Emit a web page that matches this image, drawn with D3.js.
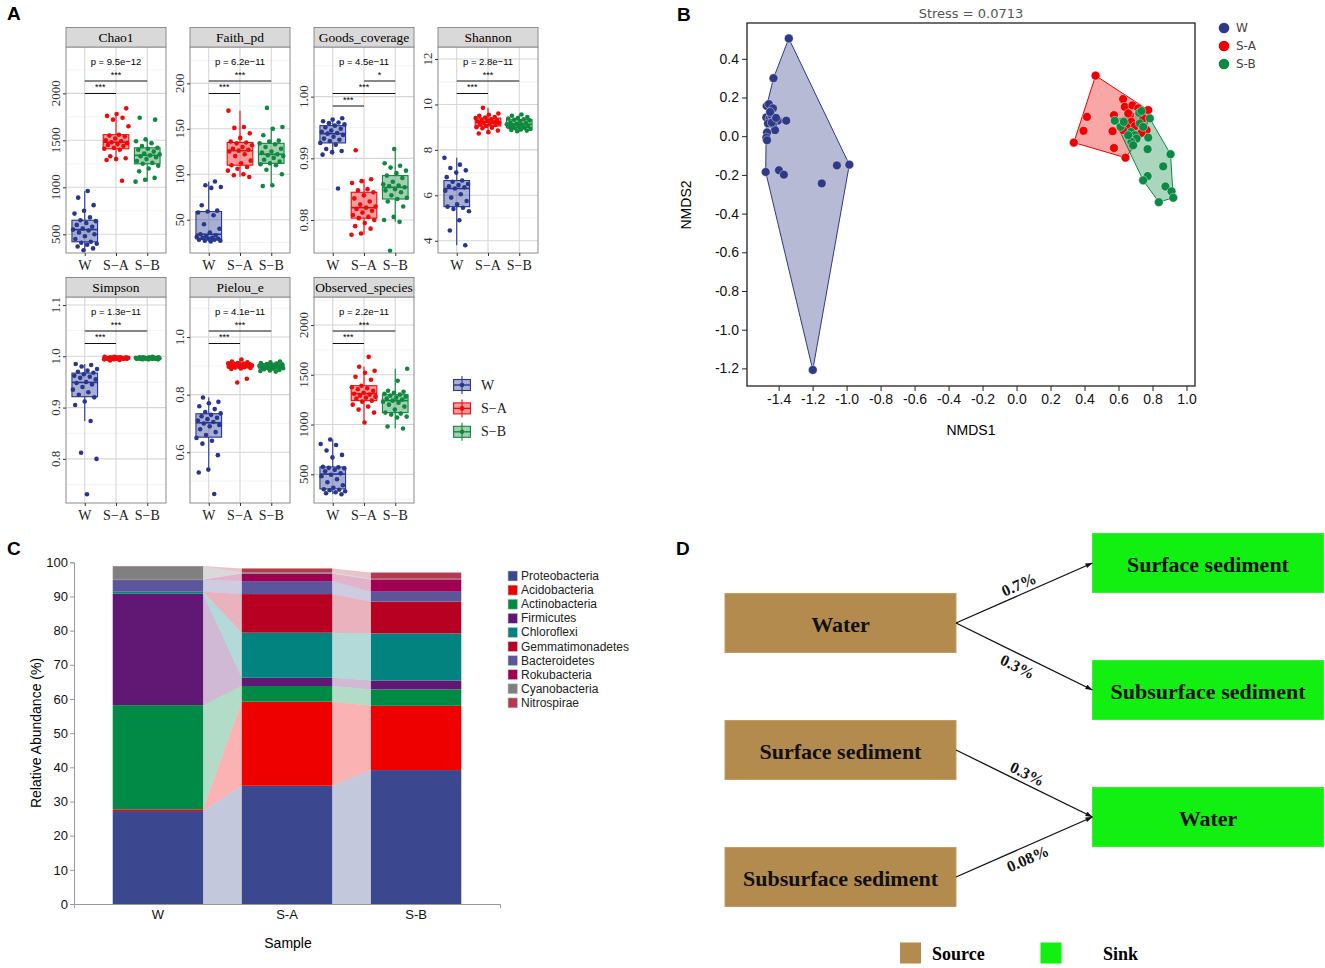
<!DOCTYPE html>
<html>
<head>
<meta charset="utf-8">
<script src="https://cdn.jsdelivr.net/npm/d3@7/dist/d3.min.js"></script>
<style>
body { margin: 0; background: #fff; }
svg { display: block; }
</style>
</head>
<body>
<svg id="fig" width="1325" height="968"></svg>
<script>
// ---------- panel A: alpha diversity ----------
var groups = ['W', 'S-A', 'S-B'];
var groupLabels = ['W', 'S\u2212A', 'S\u2212B'];
var facetNames = ['Chao1', 'Faith_pd', 'Goods_coverage', 'Shannon', 'Simpson', 'Pielou_e', 'Observed_species'];
var pLabels = ['p = 9.5e\u221212', 'p = 6.2e\u221211', 'p = 4.5e\u221211', 'p = 2.8e\u221211',
               'p = 1.3e\u221211', 'p = 4.1e\u221211', 'p = 2.2e\u221211'];

var chao1W  = [960, 890, 810, 750, 720, 680, 650, 640, 620, 600, 580, 560, 550, 540, 520, 500, 480, 450, 420, 410, 400, 390, 370, 350, 330];
var chao1SA = [1840, 1780, 1760, 1740, 1720, 1650, 1560, 1550, 1540, 1520, 1500, 1490, 1480, 1470, 1460, 1450, 1440, 1420, 1410, 1400, 1330, 1310, 1300, 1290, 1070];
var chao1SB = [1740, 1720, 1510, 1490, 1470, 1440, 1420, 1410, 1400, 1380, 1360, 1350, 1340, 1330, 1320, 1300, 1280, 1260, 1250, 1230, 1200, 1170, 1100, 1080, 1060];

var faithW  = [92, 88, 86, 85, 66, 60, 59, 58, 55, 45, 40, 36, 34, 33, 32, 31, 30, 30, 29, 29, 28, 28, 27, 27, 26];
var faithSA = [170, 152, 151, 145, 140, 136, 135, 134, 132, 130, 128, 127, 126, 125, 122, 120, 115, 112, 110, 108, 106, 104, 100, 99, 97];
var faithSB = [173, 152, 150, 143, 137, 136, 134, 133, 130, 128, 125, 124, 122, 121, 120, 118, 116, 114, 112, 111, 110, 105, 100, 88, 87];

var goodsW  = [0.9965, 0.9963, 0.9960, 0.9958, 0.9957, 0.9955, 0.9953, 0.9950, 0.9948, 0.9945, 0.9943, 0.9941, 0.9940, 0.9938, 0.9935, 0.9932, 0.9930, 0.9928, 0.9925, 0.9922, 0.9915, 0.9912, 0.9910, 0.9906, 0.9851];
var goodsSA = [0.9913, 0.9866, 0.9863, 0.9860, 0.9850, 0.9848, 0.9845, 0.9840, 0.9835, 0.9830, 0.9825, 0.9822, 0.9820, 0.9818, 0.9815, 0.9812, 0.9808, 0.9805, 0.9803, 0.9800, 0.9795, 0.9790, 0.9786, 0.9778, 0.9776];
var goodsSB = [0.9915, 0.9892, 0.9888, 0.9885, 0.9880, 0.9876, 0.9872, 0.9868, 0.9862, 0.9858, 0.9856, 0.9855, 0.9853, 0.9850, 0.9848, 0.9845, 0.9840, 0.9836, 0.9834, 0.9830, 0.9822, 0.9805, 0.9800, 0.9797, 0.9750];

var shannonW  = [7.65, 7.35, 7.2, 7.1, 7.0, 6.8, 6.65, 6.6, 6.5, 6.45, 6.4, 6.35, 6.3, 6.2, 6.05, 5.9, 5.75, 5.6, 5.5, 5.45, 5.4, 5.3, 4.9, 4.45, 3.8];
var shannonSA = [9.85, 9.6, 9.55, 9.5, 9.45, 9.42, 9.4, 9.35, 9.32, 9.3, 9.28, 9.25, 9.22, 9.2, 9.18, 9.15, 9.12, 9.1, 9.05, 9.0, 8.98, 8.95, 8.85, 8.78, 8.72];
var shannonSB = [9.56, 9.5, 9.45, 9.4, 9.38, 9.35, 9.33, 9.3, 9.25, 9.2, 9.18, 9.15, 9.13, 9.1, 9.08, 9.05, 9.02, 9.0, 8.98, 8.95, 8.92, 8.9, 8.88, 8.85, 8.82];

var simpsonW  = [0.985, 0.983, 0.980, 0.975, 0.972, 0.970, 0.968, 0.965, 0.962, 0.960, 0.958, 0.955, 0.950, 0.948, 0.945, 0.940, 0.935, 0.930, 0.925, 0.920, 0.912, 0.905, 0.874, 0.812, 0.800, 0.731];
var simpsonSA = [0.999, 0.999, 0.998, 0.998, 0.998, 0.998, 0.997, 0.997, 0.997, 0.997, 0.997, 0.997, 0.996, 0.996, 0.996, 0.996, 0.996, 0.995, 0.995, 0.995, 0.995, 0.994, 0.994, 0.993, 0.992];
var simpsonSB = [0.999, 0.998, 0.998, 0.998, 0.998, 0.997, 0.997, 0.997, 0.997, 0.997, 0.997, 0.996, 0.996, 0.996, 0.996, 0.996, 0.996, 0.995, 0.995, 0.995, 0.995, 0.995, 0.994, 0.994, 0.994];

var pielouW  = [0.790, 0.775, 0.770, 0.760, 0.750, 0.740, 0.735, 0.730, 0.725, 0.720, 0.715, 0.710, 0.705, 0.700, 0.695, 0.690, 0.680, 0.670, 0.660, 0.650, 0.640, 0.630, 0.590, 0.540, 0.530, 0.455];
var pielouSA = [0.922, 0.915, 0.912, 0.910, 0.909, 0.908, 0.907, 0.906, 0.905, 0.904, 0.903, 0.902, 0.901, 0.900, 0.899, 0.898, 0.897, 0.896, 0.895, 0.894, 0.893, 0.891, 0.889, 0.855, 0.842];
var pielouSB = [0.915, 0.912, 0.910, 0.908, 0.906, 0.905, 0.904, 0.903, 0.902, 0.901, 0.900, 0.899, 0.898, 0.897, 0.896, 0.895, 0.894, 0.893, 0.892, 0.890, 0.888, 0.886, 0.884, 0.882, 0.880];

var observedW  = [850, 805, 795, 740, 695, 670, 575, 570, 565, 560, 545, 530, 510, 495, 480, 450, 420, 390, 365, 350, 345, 340, 330, 320, 310, 300];
var observedSA = [1680, 1580, 1540, 1520, 1480, 1450, 1390, 1375, 1365, 1355, 1340, 1320, 1310, 1300, 1290, 1280, 1270, 1260, 1240, 1230, 1200, 1180, 1150, 1120, 1020];
var observedSB = [1560, 1440, 1340, 1330, 1320, 1310, 1300, 1290, 1280, 1270, 1260, 1250, 1240, 1230, 1220, 1200, 1180, 1150, 1120, 1110, 1100, 1080, 1070, 980, 960];

var chao1Ticks = [500, 1000, 1500, 2000];
var faithTicks = [50, 100, 150, 200];
var goodsTicks = [0.98, 0.99, 1.00];
var shannonTicks = [4, 6, 8, 10, 12];
var simpsonTicks = [0.8, 0.9, 1.0, 1.1];
var pielouTicks = [0.6, 0.8, 1.0];
var observedTicks = [500, 1000, 1500, 2000];

var sigTwo = [['W', 'S-B', '***'], ['W', 'S-A', '***']];
var sigGoods = [['S-A', 'S-B', '*'], ['W', 'S-B', '***'], ['W', 'S-A', '***']];

// ---------- panel B: NMDS ----------
var nmdsGroups = ['W', 'S-A', 'S-B'];
var nmdsW = [[-1.34, 0.505], [-1.43, 0.30], [-1.47, 0.156], [-1.457, 0.166], [-1.433, 0.144], [-1.472, 0.097],
  [-1.453, 0.092], [-1.443, 0.109], [-1.423, 0.083], [-1.404, 0.080], [-1.355, 0.080], [-1.462, 0.066],
  [-1.433, 0.062], [-1.421, 0.031], [-1.468, 0.019], [-1.472, -0.007], [-1.468, -0.021], [-1.476, -0.185],
  [-1.398, -0.176], [-1.369, -0.199], [-1.146, -0.244], [-1.057, -0.151], [-0.984, -0.147], [-1.199, -1.208],
  [-1.44, 0.07], [-1.415, 0.095], [-1.45, 0.125]];
var nmdsSA = [[0.465, 0.313], [0.337, -0.033], [0.641, -0.111], [0.775, 0.135], [0.414, 0.100], [0.394, 0.028],
  [0.565, 0.026], [0.573, -0.061], [0.573, 0.109], [0.627, 0.192], [0.637, 0.152], [0.682, 0.159],
  [0.667, 0.109], [0.676, 0.074], [0.745, 0.092], [0.765, 0.031], [0.735, 0.017], [0.696, 0.052],
  [0.647, 0.048], [0.627, 0.031], [0.657, 0.118], [0.716, 0.144]];
var nmdsSB = [[0.578, 0.080], [0.612, 0.048], [0.631, 0.074], [0.722, 0.121], [0.735, 0.130], [0.784, 0.092],
  [0.725, 0.066], [0.745, 0.048], [0.673, 0.022], [0.696, 0.005], [0.706, -0.012], [0.676, -0.029],
  [0.686, -0.047], [0.775, -0.007], [0.771, -0.067], [0.906, -0.093], [0.863, -0.156], [0.771, -0.206],
  [0.745, -0.228], [0.876, -0.260], [0.912, -0.285], [0.922, -0.318], [0.837, -0.341], [0.657, 0.005]];
var nmdsXTicks = [-1.4, -1.2, -1.0, -0.8, -0.6, -0.4, -0.2, 0.0, 0.2, 0.4, 0.6, 0.8, 1.0];
var nmdsYTicks = [-1.2, -1.0, -0.8, -0.6, -0.4, -0.2, 0.0, 0.2, 0.4];
var stressLabel = 'Stress = 0.0713';

// ---------- panel C: phylum composition ----------
var samples = ['W', 'S-A', 'S-B'];
var phyla = ['Proteobacteria', 'Acidobacteria', 'Actinobacteria', 'Firmicutes', 'Chloroflexi',
             'Gemmatimonadetes', 'Bacteroidetes', 'Rokubacteria', 'Cyanobacteria', 'Nitrospirae'];
var proteobacteria   = [27.2, 34.6, 39.2];
var acidobacteria    = [0.5, 24.6, 18.8];
var actinobacteria   = [30.5, 4.6, 4.8];
var firmicutes       = [32.6, 2.4, 2.6];
var chloroflexi      = [0.5, 13.2, 13.8];
var gemmatimonadetes = [0.1, 11.3, 9.3];
var bacteroidetes    = [3.4, 3.8, 2.9];
var rokubacteria     = [0.1, 2.2, 3.6];
var cyanobacteria    = [3.9, 0.4, 0.2];
var nitrospirae      = [0.1, 1.1, 1.8];
var abundanceTicks = [0, 10, 20, 30, 40, 50, 60, 70, 80, 90, 100];

// ---------- panel D: source tracking ----------
var sourceNames = ['Water', 'Surface sediment', 'Subsurface sediment'];
var sinkNames = ['Surface sediment', 'Subsurface sediment', 'Water'];
var flowFrom = ['Water', 'Water', 'Surface sediment', 'Subsurface sediment'];
var flowTo = ['Surface sediment', 'Subsurface sediment', 'Water', 'Water'];
var flowLabels = ['0.7%', '0.3%', '0.3%', '0.08%'];

// =====================================================
var svg = d3.select('#fig');
var serif = '"Liberation Serif","Times New Roman",serif';
var sans = '"Liberation Sans",Arial,sans-serif';
var dejavu = '"DejaVu Sans",Verdana,sans-serif';

function letter(t, x, y) {
  svg.append('text').attr('x', x).attr('y', y).text(t)
    .attr('font-family', sans).attr('font-weight', 'bold').attr('font-size', 19);
}

// ---------- draw panel A ----------
var colA = {'W': '#27378f', 'S-A': '#ec0b0b', 'S-B': '#11883f'};
var facetValues = [
  [chao1W, chao1SA, chao1SB], [faithW, faithSA, faithSB], [goodsW, goodsSA, goodsSB],
  [shannonW, shannonSA, shannonSB], [simpsonW, simpsonSA, simpsonSB], [pielouW, pielouSA, pielouSB],
  [observedW, observedSA, observedSB]];
var facetTicks = [chao1Ticks, faithTicks, goodsTicks, shannonTicks, simpsonTicks, pielouTicks, observedTicks];
var facetDomains = [[301, 2493], [13.4, 240], [0.97465, 1.00805], [3.46, 12.53], [0.714, 1.1156], [0.424, 1.139], [212, 2281]];
var facetFormats = [d3.format('d'), d3.format('d'), d3.format('.2f'), d3.format('d'), d3.format('.1f'), d3.format('.1f'), d3.format('d')];
var facetSig = [sigTwo, sigTwo, sigGoods, sigTwo, sigTwo, sigTwo, sigTwo];

facetNames.forEach(function(name, i) {
  var col = i % 4, row = Math.floor(i / 4);
  var left = 66 + col * 124, right = left + 100;
  var top = row ? 297 : 47, bottom = row ? 503 : 253;
  var x = d3.scalePoint().domain(groups).range([left, right]).padding(0.6);
  var y = d3.scaleLinear().domain(facetDomains[i]).range([bottom, top]);
  var ticks = facetTicks[i];
  var step = ticks[1] - ticks[0];
  var minor = [ticks[0] - step / 2].concat(ticks.map(function(t) { return t + step / 2; }))
    .filter(function(v) { return v > facetDomains[i][0] && v < facetDomains[i][1]; });
  var g = svg.append('g');

  g.append('rect').attr('x', left).attr('y', top).attr('width', right - left).attr('height', bottom - top).attr('fill', '#fff');
  g.selectAll('.mn').data(minor).enter().append('line')
    .attr('x1', left).attr('x2', right).attr('y1', y).attr('y2', y)
    .attr('stroke', '#ebebeb').attr('stroke-width', 0.6);
  g.selectAll('.mj').data(ticks).enter().append('line')
    .attr('x1', left).attr('x2', right).attr('y1', y).attr('y2', y)
    .attr('stroke', '#d6d6d6').attr('stroke-width', 1.1);
  g.selectAll('.vx').data(groups).enter().append('line')
    .attr('x1', x).attr('x2', x).attr('y1', top).attr('y2', bottom)
    .attr('stroke', '#d6d6d6').attr('stroke-width', 1.1);

  var bw = 0.82 * x.step();
  facetValues[i].forEach(function(vals, k) {
    var grp = groups[k], c = colA[grp], cx = x(grp);
    var s = vals.slice().sort(d3.ascending);
    var q1 = d3.quantile(s, 0.25), med = d3.quantile(s, 0.5), q3 = d3.quantile(s, 0.75);
    var iqr = q3 - q1;
    var lo = d3.min(s.filter(function(v) { return v >= q1 - 1.5 * iqr; }));
    var hi = d3.max(s.filter(function(v) { return v <= q3 + 1.5 * iqr; }));
    g.append('line').attr('x1', cx).attr('x2', cx).attr('y1', y(lo)).attr('y2', y(q1)).attr('stroke', c).attr('stroke-width', 1.1);
    g.append('line').attr('x1', cx).attr('x2', cx).attr('y1', y(q3)).attr('y2', y(hi)).attr('stroke', c).attr('stroke-width', 1.1);
    g.append('rect').attr('x', cx - bw / 2).attr('width', bw).attr('y', y(q3)).attr('height', Math.max(1, y(q1) - y(q3)))
      .attr('fill', c).attr('fill-opacity', 0.4).attr('stroke', c).attr('stroke-width', 1.1);
    g.append('line').attr('x1', cx - bw / 2).attr('x2', cx + bw / 2).attr('y1', y(med)).attr('y2', y(med))
      .attr('stroke', c).attr('stroke-width', 1.6);
    g.selectAll(null).data(vals).enter().append('circle')
      .attr('cx', function(d, j) { return cx + ((((j + 1) * 0.6180339 + k * 0.29 + i * 0.13) % 1) - 0.5) * 0.8 * x.step(); })
      .attr('cy', function(d) { return y(d); })
      .attr('r', 2.3).attr('fill', c);
  });

  // comparison brackets
  facetSig[i].forEach(function(sg, k) {
    var ly = top + 34 + k * 12.5;
    g.append('line').attr('x1', x(sg[0])).attr('x2', x(sg[1])).attr('y1', ly).attr('y2', ly).attr('stroke', '#111').attr('stroke-width', 1);
    g.append('text').attr('x', (x(sg[0]) + x(sg[1])) / 2).attr('y', ly - 3.5).text(sg[2])
      .attr('text-anchor', 'middle').attr('font-family', sans).attr('font-size', 9);
  });
  g.append('text').attr('x', x('S-A')).attr('y', top + 14).text(pLabels[i])
    .attr('text-anchor', 'middle').attr('dominant-baseline', 'central').attr('font-family', sans).attr('font-size', 9.5);

  g.append('rect').attr('x', left).attr('y', top).attr('width', right - left).attr('height', bottom - top)
    .attr('fill', 'none').attr('stroke', '#8c8c8c').attr('stroke-width', 1);
  // strip
  g.append('rect').attr('x', left).attr('y', top - 19.5).attr('width', right - left).attr('height', 19.5)
    .attr('fill', '#d9d9d9').attr('stroke', '#8c8c8c').attr('stroke-width', 1);
  g.append('text').attr('x', (left + right) / 2).attr('y', top - 9.5).text(name)
    .attr('text-anchor', 'middle').attr('dominant-baseline', 'central').attr('font-family', serif).attr('font-size', 13.5);

  // axes
  var ya = g.append('g').attr('transform', 'translate(' + left + ',0)')
    .call(d3.axisLeft(y).tickValues(ticks).tickSize(3).tickFormat(''));
  ya.select('.domain').remove();
  ya.selectAll('line').attr('stroke', '#333');
  g.selectAll('.yl').data(ticks).enter().append('text')
    .attr('transform', function(d) { return 'translate(' + (left - 11) + ',' + y(d) + ') rotate(-90)'; })
    .attr('text-anchor', 'middle').attr('dominant-baseline', 'central')
    .attr('font-family', serif).attr('font-size', 13).attr('fill', '#333')
    .text(facetFormats[i]);
  var xa = g.append('g').attr('transform', 'translate(0,' + bottom + ')')
    .call(d3.axisBottom(x).tickSize(3).tickFormat(''));
  xa.select('.domain').remove();
  xa.selectAll('line').attr('stroke', '#333');
  g.selectAll('.xl').data(groups).enter().append('text')
    .attr('x', x).attr('y', bottom + 12).text(function(d, j) { return groupLabels[j]; })
    .attr('text-anchor', 'middle').attr('dominant-baseline', 'central')
    .attr('font-family', serif).attr('font-size', 14).attr('fill', '#222');
});

// legend A
groups.forEach(function(grp, k) {
  var cy = 385 + k * 23.4, cx = 462, c = colA[grp];
  svg.append('line').attr('x1', cx).attr('x2', cx).attr('y1', cy - 9).attr('y2', cy + 9).attr('stroke', c).attr('stroke-width', 1.1);
  svg.append('rect').attr('x', cx - 8.4).attr('y', cy - 5.5).attr('width', 16.8).attr('height', 11)
    .attr('fill', c).attr('fill-opacity', 0.4).attr('stroke', c).attr('stroke-width', 1.1);
  svg.append('line').attr('x1', cx - 8.4).attr('x2', cx + 8.4).attr('y1', cy).attr('y2', cy).attr('stroke', c).attr('stroke-width', 1.4);
  svg.append('circle').attr('cx', cx).attr('cy', cy).attr('r', 2.3).attr('fill', c);
  svg.append('text').attr('x', 481).attr('y', cy).text(groupLabels[k])
    .attr('dominant-baseline', 'central').attr('font-family', serif).attr('font-size', 14).attr('fill', '#222');
});
letter('A', 7, 20);

// ---------- draw panel B ----------
var colB = {'W': '#2e3a87', 'S-A': '#ee0000', 'S-B': '#0b8a43'};
var nmdsPts = [nmdsW, nmdsSA, nmdsSB];
var bx = d3.scaleLinear().domain([-1.586, 1.05]).range([747, 1195]);
var by = d3.scaleLinear().domain([-1.291, 0.585]).range([386, 23]);
var fmt1 = function(d) { return d.toFixed(1); };

nmdsPts.forEach(function(pts, k) {
  var hull = d3.polygonHull(pts.map(function(p) { return [bx(p[0]), by(p[1])]; }));
  svg.append('path').attr('d', 'M' + hull.join('L') + 'Z')
    .attr('fill', colB[nmdsGroups[k]]).attr('fill-opacity', 0.35)
    .attr('stroke', colB[nmdsGroups[k]]).attr('stroke-width', 1);
});
nmdsPts.forEach(function(pts, k) {
  svg.selectAll(null).data(pts).enter().append('circle')
    .attr('cx', function(p) { return bx(p[0]); }).attr('cy', function(p) { return by(p[1]); })
    .attr('r', 4.4).attr('fill', colB[nmdsGroups[k]]).attr('stroke', '#fff').attr('stroke-width', 0.4);
});
var bxa = svg.append('g').attr('transform', 'translate(0,386)')
  .call(d3.axisBottom(bx).tickValues(nmdsXTicks).tickFormat(fmt1).tickSize(5));
var bya = svg.append('g').attr('transform', 'translate(747,0)')
  .call(d3.axisLeft(by).tickValues(nmdsYTicks).tickFormat(fmt1).tickSize(5));
[bxa, bya].forEach(function(a) {
  a.select('.domain').remove();
  a.selectAll('line').attr('stroke', '#222');
  a.selectAll('text').attr('font-family', sans).attr('font-size', 14).attr('fill', '#111');
});
svg.append('rect').attr('x', 747).attr('y', 23).attr('width', 448).attr('height', 363)
  .attr('fill', 'none').attr('stroke', '#222').attr('stroke-width', 1.3);
svg.append('text').attr('x', 971).attr('y', 13).text(stressLabel)
  .attr('text-anchor', 'middle').attr('dominant-baseline', 'central')
  .attr('font-family', dejavu).attr('font-size', 13).attr('fill', '#555');
svg.append('text').attr('x', 971).attr('y', 430).text('NMDS1')
  .attr('text-anchor', 'middle').attr('dominant-baseline', 'central').attr('font-family', sans).attr('font-size', 14);
svg.append('text').attr('transform', 'translate(686,205) rotate(-90)').text('NMDS2')
  .attr('text-anchor', 'middle').attr('dominant-baseline', 'central').attr('font-family', sans).attr('font-size', 14);
nmdsGroups.forEach(function(grp, k) {
  svg.append('circle').attr('cx', 1224).attr('cy', 28 + k * 18).attr('r', 5.3).attr('fill', colB[grp]);
  svg.append('text').attr('x', 1236).attr('y', 28 + k * 18).text(grp)
    .attr('dominant-baseline', 'central').attr('font-family', dejavu).attr('font-size', 12).attr('fill', '#444');
});
letter('B', 677, 21);

// ---------- draw panel C ----------
var phylumCols = ['#3b4890', '#ee0000', '#008a45', '#611875', '#02837f', '#b70022', '#5b559b', '#a10052', '#808080', '#b43b4f'];
var phylumVals = [proteobacteria, acidobacteria, actinobacteria, firmicutes, chloroflexi,
                  gemmatimonadetes, bacteroidetes, rokubacteria, cyanobacteria, nitrospirae];
var rows = samples.map(function(s, j) {
  var r = {sample: s};
  phyla.forEach(function(p, i) { r[p] = phylumVals[i][j]; });
  return r;
});
var series = d3.stack().keys(phyla)(rows);
var cx = d3.scaleBand().domain(samples).range([74, 500]).paddingInner(0.3).paddingOuter(0.3);
var cy = d3.scaleLinear().domain([0, 100]).range([904, 562.3]);
var cbw = cx.bandwidth();

series.forEach(function(ser, i) {
  var col = phylumCols[i];
  for (var j = 0; j < samples.length - 1; j++) {
    var a = ser[j], b = ser[j + 1];
    var x0 = cx(samples[j]) + cbw, x1 = cx(samples[j + 1]);
    svg.append('path')
      .attr('d', 'M' + x0 + ',' + cy(a[1]) + 'L' + x1 + ',' + cy(b[1]) + 'L' + x1 + ',' + cy(b[0]) + 'L' + x0 + ',' + cy(a[0]) + 'Z')
      .attr('fill', col).attr('fill-opacity', 0.3);
  }
  svg.selectAll(null).data(ser).enter().append('rect')
    .attr('x', function(d) { return cx(d.data.sample); }).attr('width', cbw)
    .attr('y', function(d) { return cy(d[1]); })
    .attr('height', function(d) { return cy(d[0]) - cy(d[1]); })
    .attr('fill', col);
});
var cya = svg.append('g').attr('transform', 'translate(74,0)')
  .call(d3.axisLeft(cy).tickValues(abundanceTicks).tickSize(4).tickPadding(2));
var cxa = svg.append('g').attr('transform', 'translate(0,904)')
  .call(d3.axisBottom(cx).tickSize(0).tickSizeOuter(4).tickPadding(6));
[cya, cxa].forEach(function(a) {
  a.select('.domain').attr('stroke', '#999');
  a.selectAll('line').attr('stroke', '#999');
  a.selectAll('text').attr('font-family', sans).attr('font-size', 13).attr('fill', '#111');
});
svg.append('text').attr('x', 288).attr('y', 943).text('Sample')
  .attr('text-anchor', 'middle').attr('dominant-baseline', 'central').attr('font-family', sans).attr('font-size', 14);
svg.append('text').attr('transform', 'translate(36,733) rotate(-90)').text('Relative Abundance (%)')
  .attr('text-anchor', 'middle').attr('dominant-baseline', 'central').attr('font-family', sans).attr('font-size', 14);
phyla.forEach(function(p, i) {
  var ly = 576 + i * 14.1;
  svg.append('rect').attr('x', 508).attr('y', ly - 5).attr('width', 9.5).attr('height', 10)
    .attr('fill', phylumCols[i]).attr('stroke', '#ccc').attr('stroke-width', 0.6);
  svg.append('text').attr('x', 521).attr('y', ly).text(p)
    .attr('dominant-baseline', 'central').attr('font-family', sans).attr('font-size', 12).attr('fill', '#222');
});
letter('C', 7, 555);

// ---------- draw panel D ----------
var brown = '#b38b4f', green = '#12f012';
var boxW = 231, boxH = 59;
var srcX = 725, sinkX = 1092.5;
var srcY = d3.scalePoint().domain(sourceNames).range([623, 877]);
var sinkY = d3.scalePoint().domain(sinkNames).range([563, 817]);
var labelOffset = [-10, 12, -10, 12];

svg.append('defs').append('marker').attr('id', 'arrowhead')
  .attr('viewBox', '0 0 10 10').attr('refX', 10).attr('refY', 5)
  .attr('markerUnits', 'userSpaceOnUse').attr('markerWidth', 9).attr('markerHeight', 7).attr('orient', 'auto')
  .append('path').attr('d', 'M0,1.5L10,5L0,8.5Z').attr('fill', '#111');

function dBox(x, yc, fill, txt) {
  svg.append('rect').attr('x', x).attr('y', yc - boxH / 2).attr('width', boxW).attr('height', boxH)
    .attr('fill', fill).attr('stroke', fill === brown ? '#c49c62' : '#2ef52e').attr('stroke-width', 1);
  svg.append('text').attr('x', x + boxW / 2).attr('y', yc + 1).text(txt)
    .attr('text-anchor', 'middle').attr('dominant-baseline', 'central')
    .attr('font-family', serif).attr('font-weight', 'bold').attr('font-size', 22).attr('fill', '#111');
}
sourceNames.forEach(function(n) { dBox(srcX, srcY(n), brown, n); });
sinkNames.forEach(function(n) { dBox(sinkX, sinkY(n), green, n); });

flowLabels.forEach(function(lab, i) {
  var x0 = srcX + boxW, y0 = srcY(flowFrom[i]);
  var x1 = sinkX, y1 = sinkY(flowTo[i]);
  svg.append('line').attr('x1', x0).attr('y1', y0).attr('x2', x1).attr('y2', y1)
    .attr('stroke', '#111').attr('stroke-width', 1.3).attr('marker-end', 'url(#arrowhead)');
  var dx = x1 - x0, dy = y1 - y0, len = Math.sqrt(dx * dx + dy * dy);
  var t = 0.49, off = labelOffset[i];
  var lx = x0 + dx * t - dy / len * off, ly = y0 + dy * t + dx / len * off;
  var ang = Math.atan2(dy, dx) * 180 / Math.PI;
  svg.append('text').attr('transform', 'translate(' + lx + ',' + ly + ') rotate(' + ang + ')').text(lab)
    .attr('text-anchor', 'middle').attr('dominant-baseline', 'central')
    .attr('font-family', serif).attr('font-weight', 'bold').attr('font-size', 16).attr('fill', '#111');
});

[['Source', brown, 900, 932], ['Sink', green, 1040.5, 1103]].forEach(function(l) {
  svg.append('rect').attr('x', l[2]).attr('y', 942.5).attr('width', 21).attr('height', 21).attr('fill', l[1]);
  svg.append('text').attr('x', l[3]).attr('y', 954).text(l[0])
    .attr('dominant-baseline', 'central').attr('font-family', serif).attr('font-weight', 'bold').attr('font-size', 18);
});
letter('D', 676, 555);
</script>
</body>
</html>
